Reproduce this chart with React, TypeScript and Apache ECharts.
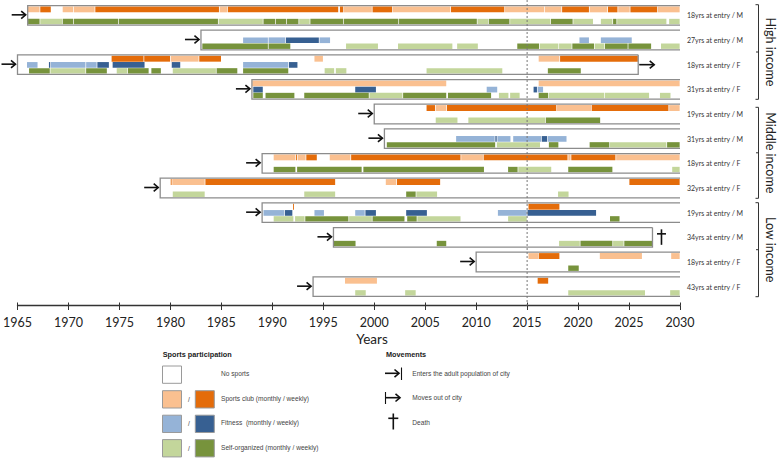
import React, { useEffect, useRef } from "react";
import * as echarts from "echarts";

// ---------------- data ----------------
const personLabels = [
  "18yrs at entry / M",
  "27yrs at entry / M",
  "18yrs at entry / F",
  "31yrs at entry / F",
  "19yrs at entry / M",
  "31yrs at entry / M",
  "18yrs at entry / F",
  "32yrs at entry / F",
  "19yrs at entry / M",
  "34yrs at entry / M",
  "18yrs at entry / F",
  "43yrs at entry / F",
];
const entryYears = [1966, 1983, 1965, 1988, 2000, 2001, 1989, 1979, 1989, 1996, 2010, 1994];
const endYears = [2030, 2030, 2025.9, 2030, 2030, 2030, 2030, 2030, 2030, 2027.3, 2030, 2030];
// 0 = still in city, 1 = moves out of city, 2 = death
const endTypes = [0, 0, 1, 0, 0, 0, 0, 0, 0, 2, 0, 0];

const incomeGroups = ["High income", "Middle income", "Low income"];
const yearMin = 1965;
const yearMax = 2030;
const yearStep = 5;
const referenceYear = 2015;

// [person, start, end, intensity (0 = monthly, 1 = weekly)]
const clubSegments = [
  [0, 1966.0, 1967.2, 0], [0, 1967.2, 1968.3, 1], [0, 1969.4, 1970.5, 0], [0, 1970.5, 1972.6, 0],
  [0, 1972.6, 1984.8, 1], [0, 1984.8, 1985.6, 0], [0, 1985.6, 1996.5, 1], [0, 1996.6, 1997.0, 1],
  [0, 1997.0, 1999.8, 0], [0, 1999.8, 2001.8, 1], [0, 2001.8, 2007.5, 0], [0, 2007.5, 2012.8, 1],
  [0, 2012.8, 2016.7, 0], [0, 2016.7, 2018.4, 0], [0, 2018.4, 2021.1, 1], [0, 2021.1, 2022.9, 0],
  [0, 2022.9, 2023.9, 1], [0, 2023.9, 2025.1, 0], [0, 2025.1, 2027.8, 1], [0, 2027.8, 2030, 0],
  [2, 1974.2, 1977.4, 1], [2, 1977.4, 1980.0, 1], [2, 1980.0, 1982.8, 0], [2, 1982.8, 1985.0, 1],
  [2, 1994.1, 1995.0, 0], [2, 2016.1, 2018.2, 0], [2, 2018.2, 2025.9, 1],
  [3, 1988.0, 2007.1, 0], [3, 2016.1, 2030, 0],
  [4, 2005.1, 2006.0, 1], [4, 2006.0, 2007.1, 0], [4, 2007.1, 2017.9, 1], [4, 2017.9, 2021.3, 0],
  [4, 2021.3, 2028.9, 1], [4, 2028.9, 2030, 0],
  [6, 1990.1, 1992.3, 0], [6, 1992.3, 1992.45, 1], [6, 1992.45, 1993.3, 0], [6, 1993.3, 1994.4, 1],
  [6, 1995.6, 1997.7, 0], [6, 1997.7, 2008.5, 1], [6, 2008.5, 2010.7, 0], [6, 2010.7, 2019.0, 1],
  [6, 2019.0, 2019.3, 0], [6, 2019.3, 2023.7, 1], [6, 2023.7, 2030, 0],
  [7, 1980.0, 1980.15, 1], [7, 1980.15, 1983.4, 0], [7, 1983.4, 1996.2, 1], [7, 2001.1, 2002.2, 0],
  [7, 2002.2, 2006.5, 1], [7, 2025.0, 2030, 1],
  [8, 1992.0, 1992.12, 1], [8, 2015.1, 2018.2, 1],
  [10, 2015.1, 2016.1, 0], [10, 2016.1, 2018.2, 1], [10, 2022.1, 2026.3, 0], [10, 2029.1, 2030, 0],
  [11, 1997.1, 2000.3, 0], [11, 2016.0, 2017.1, 1],
];

const fitnessSegments = [
  [1, 1987.1, 1989.6, 0], [1, 1989.6, 1991.3, 0], [1, 1991.3, 1994.6, 1], [1, 1994.6, 1995.7, 0],
  [1, 2020.1, 2021.1, 0], [1, 2022.2, 2025.3, 0],
  [2, 1965.9, 1967.0, 0], [2, 1968.05, 1968.25, 1], [2, 1968.25, 1971.7, 0], [2, 1971.7, 1972.8, 0],
  [2, 1972.8, 1974.0, 1], [2, 1974.3, 1977.5, 1], [2, 1980.1, 1981.0, 1], [2, 1987.1, 1991.6, 0],
  [2, 1991.6, 1992.5, 1],
  [3, 1988.1, 1989.1, 1], [3, 1998.1, 2000.2, 1], [3, 2011.0, 2012.1, 0], [3, 2015.6, 2016.0, 1],
  [3, 2016.0, 2016.6, 0],
  [5, 2008.0, 2011.85, 0], [5, 2011.85, 2012.05, 1], [5, 2012.05, 2013.4, 0], [5, 2013.6, 2016.4, 0],
  [5, 2016.4, 2017.0, 1], [5, 2017.0, 2018.9, 0],
  [8, 1989.1, 1991.2, 0], [8, 1991.2, 1992.0, 1], [8, 1994.1, 1995.1, 0], [8, 1998.1, 1999.1, 0],
  [8, 1999.1, 2000.2, 1], [8, 2003.1, 2005.2, 1], [8, 2012.1, 2015.0, 0], [8, 2015.0, 2021.8, 1],
];

const selfSegments = [
  [0, 1966.0, 1967.2, 1], [0, 1967.2, 1969.4, 0], [0, 1969.4, 1970.5, 1], [0, 1970.5, 1974.9, 1],
  [0, 1974.9, 1984.7, 1], [0, 1984.7, 1989.1, 0], [0, 1989.1, 1990.3, 1], [0, 1990.3, 1991.4, 1],
  [0, 1991.4, 1992.6, 1], [0, 1992.6, 1993.7, 0], [0, 1993.7, 1997.0, 1], [0, 1997.0, 2002.4, 1],
  [0, 2002.4, 2010.1, 1], [0, 2010.1, 2011.2, 0], [0, 2011.2, 2013.3, 1], [0, 2013.3, 2017.3, 0],
  [0, 2017.3, 2019.5, 1], [0, 2019.5, 2021.5, 0], [0, 2022.2, 2023.4, 0], [0, 2023.4, 2023.8, 1],
  [0, 2023.8, 2028.7, 0], [0, 2028.9, 2030, 0],
  [1, 1983.1, 1989.6, 1], [1, 1989.6, 1991.8, 1], [1, 1997.2, 2000.4, 0], [1, 2002.3, 2007.7, 0],
  [1, 2008.1, 2010.2, 0], [1, 2014.0, 2016.2, 1], [1, 2016.2, 2018.1, 0], [1, 2018.1, 2019.4, 0],
  [1, 2019.4, 2021.6, 1], [1, 2021.6, 2022.6, 0], [1, 2022.6, 2024.9, 1], [1, 2024.9, 2027.2, 1],
  [1, 2028.1, 2030, 0],
  [2, 1966.1, 1968.2, 1], [2, 1968.2, 1971.7, 0], [2, 1971.7, 1973.8, 1], [2, 1974.7, 1975.8, 0],
  [2, 1975.8, 1977.9, 1], [2, 1978.1, 1979.1, 1], [2, 1980.2, 1984.5, 0], [2, 1984.5, 1986.6, 1],
  [2, 1987.1, 1991.6, 1], [2, 1995.1, 1996.1, 0], [2, 1996.2, 1997.3, 0], [2, 2005.1, 2012.6, 0],
  [2, 2017.0, 2020.3, 1],
  [3, 1988.1, 1989.1, 1], [3, 1989.3, 1992.2, 1], [3, 1993.1, 1999.5, 1], [3, 1999.5, 2002.8, 0],
  [3, 2002.8, 2007.1, 1], [3, 2007.2, 2011.5, 1], [3, 2012.2, 2013.2, 0], [3, 2013.3, 2014.3, 0],
  [3, 2016.1, 2017.1, 1], [3, 2017.1, 2022.6, 0], [3, 2022.6, 2027.0, 0], [3, 2028.0, 2029.1, 0],
  [4, 2006.0, 2008.2, 0], [4, 2009.2, 2016.8, 0], [4, 2016.8, 2022.2, 1],
  [5, 2001.2, 2011.9, 1], [5, 2012.0, 2016.3, 0], [5, 2017.1, 2018.1, 1], [5, 2021.1, 2023.1, 1],
  [5, 2023.1, 2028.7, 0], [5, 2028.7, 2030, 1],
  [6, 1990.1, 1992.3, 1], [6, 1992.4, 1998.8, 1], [6, 1998.9, 2010.8, 1], [6, 2013.1, 2014.1, 1],
  [6, 2014.1, 2017.4, 0], [6, 2019.0, 2023.4, 1], [6, 2029.2, 2030, 0],
  [7, 1980.2, 1983.4, 0], [7, 1993.1, 1996.2, 0], [7, 2003.1, 2004.1, 1], [7, 2004.1, 2006.2, 0],
  [7, 2018.0, 2019.1, 0],
  [8, 1990.1, 1992.1, 0], [8, 1992.2, 1993.2, 0], [8, 1993.2, 1997.5, 1], [8, 1997.5, 1999.8, 0],
  [8, 1999.8, 2003.0, 1], [8, 2003.2, 2004.2, 1], [8, 2004.2, 2008.5, 0], [8, 2013.1, 2015.0, 0],
  [8, 2023.1, 2024.1, 1],
  [9, 1996.0, 1998.2, 1], [9, 2006.1, 2007.1, 1], [9, 2018.1, 2020.2, 0], [9, 2020.2, 2023.4, 1],
  [9, 2023.4, 2024.5, 0], [9, 2024.5, 2027.3, 1],
  [10, 2019.0, 2020.1, 1],
  [11, 1998.1, 1999.2, 0], [11, 2003.0, 2004.1, 0], [11, 2019.0, 2026.6, 0], [11, 2029.0, 2030, 0],
];

// ---------------- styles ----------------
const palette = [
  ["#FAC090", "#E46C0A"], // sports club
  ["#95B3D7", "#376092"], // fitness
  ["#C3D69B", "#77933C"], // self-organized
];
const subRowOffsets = [
  [-8.9, -3.0],
  [-2.6, 3.1],
  [3.5, 8.9],
];
const BOX_HALF = 9.8;
const FONT = "Lato, 'Liberation Sans', sans-serif";
const LEGEND_FONT = "'Liberation Sans', Arial, sans-serif";

function buildOption() {
  const segData: number[][] = [];
  clubSegments.forEach((s) => segData.push([s[0], 0, s[1], s[2], s[3]]));
  fitnessSegments.forEach((s) => segData.push([s[0], 1, s[1], s[2], s[3]]));
  selfSegments.forEach((s) => segData.push([s[0], 2, s[1], s[2], s[3]]));

  const boxData = personLabels.map((_, i) => [i, entryYears[i], endYears[i], endTypes[i]]);

  const black = "#111";

  const renderSegment = (params: any, api: any) => {
    const row = api.value(0);
    const sub = api.value(1);
    const lvl = api.value(4);
    const p0 = api.coord([api.value(2), row]);
    const p1 = api.coord([api.value(3), row]);
    const off = subRowOffsets[sub];
    const w = Math.max(p1[0] - p0[0] - 0.7, 0.9);
    return {
      type: "rect",
      shape: { x: p0[0] + 0.35, y: p0[1] + off[0], width: w, height: off[1] - off[0] },
      style: { fill: palette[sub][lvl] },
    };
  };

  const renderBox = (params: any, api: any) => {
    const row = api.value(0);
    const p0 = api.coord([api.value(1), row]);
    const p1 = api.coord([api.value(2), row]);
    const endType = api.value(3);
    const cy = p0[1];
    const top = cy - BOX_HALF;
    const bot = cy + BOX_HALF;
    const x0 = p0[0];
    const x1 = p1[0];
    const children: any[] = [];
    const pts =
      endType === 0
        ? [[x1, top], [x0, top], [x0, bot], [x1, bot]]
        : [[x1, top], [x0, top], [x0, bot], [x1, bot], [x1, top]];
    children.push({
      type: "polyline",
      shape: { points: pts },
      style: { stroke: "#8c8c8c", lineWidth: 1.3, fill: "none" },
    });
    // entry arrow
    const ay = cy - 0.5;
    children.push({
      type: "line",
      shape: { x1: x0 - 16, y1: ay, x2: x0 - 2, y2: ay },
      style: { stroke: black, lineWidth: 1.6 },
    });
    children.push({
      type: "polyline",
      shape: { points: [[x0 - 6.5, ay - 3.8], [x0 - 2, ay], [x0 - 6.5, ay + 3.8]] },
      style: { stroke: black, lineWidth: 1.6, fill: "none" },
    });
    if (endType === 1) {
      children.push({
        type: "line",
        shape: { x1: x1 + 1, y1: cy, x2: x1 + 16, y2: cy },
        style: { stroke: black, lineWidth: 1.6 },
      });
      children.push({
        type: "polyline",
        shape: { points: [[x1 + 11.5, cy - 3.8], [x1 + 16, cy], [x1 + 11.5, cy + 3.8]] },
        style: { stroke: black, lineWidth: 1.6, fill: "none" },
      });
    } else if (endType === 2) {
      const cx = x1 + 9;
      children.push({
        type: "line",
        shape: { x1: cx, y1: cy - 8, x2: cx, y2: cy + 7.5 },
        style: { stroke: black, lineWidth: 1.6 },
      });
      children.push({
        type: "line",
        shape: { x1: cx - 4.5, y1: cy - 3.5, x2: cx + 4.5, y2: cy - 3.5 },
        style: { stroke: black, lineWidth: 1.6 },
      });
    }
    return { type: "group", children };
  };

  const renderRef = (params: any, api: any) => {
    const pTop = api.coord([api.value(0), 0]);
    const pBot = api.coord([api.value(0), personLabels.length - 1]);
    return {
      type: "line",
      shape: { x1: pTop[0], y1: 0, x2: pTop[0], y2: pBot[1] + 19 },
      style: { stroke: "#777", lineWidth: 1, lineDash: [2, 2] },
    };
  };

  // ----- graphic: brackets, group labels, Years, legend -----
  const bracketSpec = [
    { top: 4.7, bottom: 99.3 },
    { top: 107.3, bottom: 198.3 },
    { top: 202.7, bottom: 296.7 },
  ];
  const graphics: any[] = [];
  bracketSpec.forEach((b, i) => {
    const bx = 758.5;
    const mid = (b.top + b.bottom) / 2;
    graphics.push({
      type: "polyline",
      shape: { points: [[755.5, b.top], [bx, b.top], [bx, b.bottom], [755.5, b.bottom]] },
      style: { stroke: "#333", lineWidth: 1, fill: "none" },
    });
    graphics.push({
      type: "line",
      shape: { x1: bx, y1: mid, x2: bx - 2.5, y2: mid },
      style: { stroke: "#333", lineWidth: 1 },
    });
    graphics.push({
      type: "text",
      x: 770,
      y: mid,
      rotation: -Math.PI / 2,
      style: {
        text: incomeGroups[i],
        fontSize: 12.5,
        fontFamily: FONT,
        fill: "#222",
        align: "center",
        verticalAlign: "middle",
      },
    });
  });

  graphics.push({
    type: "text",
    x: 372,
    y: 338.5,
    style: {
      text: "Years",
      fontSize: 13.5,
      fontFamily: FONT,
      fill: "#222",
      align: "center",
      verticalAlign: "middle",
    },
  });

  // legend: sports participation
  graphics.push({
    type: "text",
    x: 162.7,
    y: 354,
    style: {
      text: "Sports participation",
      fontSize: 7.3,
      fontWeight: "bold",
      fontFamily: LEGEND_FONT,
      fill: "#222",
      verticalAlign: "middle",
    },
  });
  const legendRows = [
    { label: "No sports", y: 366, colors: null as null | string[] },
    { label: "Sports club (monthly / weekly)", y: 390.7, colors: palette[0] },
    { label: "Fitness  (monthly / weekly)", y: 415.2, colors: palette[1] },
    { label: "Self-organized (monthly / weekly)", y: 439.6, colors: palette[2] },
  ];
  legendRows.forEach((r) => {
    graphics.push({
      type: "rect",
      shape: { x: 162.5, y: r.y, width: 19, height: 17.3 },
      style: { fill: r.colors ? r.colors[0] : "#fff", stroke: "#9a9a9a", lineWidth: 1 },
    });
    if (r.colors) {
      graphics.push({
        type: "text",
        x: 189,
        y: r.y + 8.6,
        style: {
          text: "/",
          fontSize: 6.5,
          fontFamily: LEGEND_FONT,
          fill: "#444",
          align: "center",
          verticalAlign: "middle",
        },
      });
      graphics.push({
        type: "rect",
        shape: { x: 195.3, y: r.y, width: 19, height: 17.3 },
        style: { fill: r.colors[1], stroke: "#9a9a9a", lineWidth: 1 },
      });
    }
    graphics.push({
      type: "text",
      x: 221,
      y: r.y + 7.4,
      style: {
        text: r.label,
        fontSize: 6.6,
        fontFamily: LEGEND_FONT,
        fill: "#444",
        verticalAlign: "middle",
      },
    });
  });

  // legend: movements
  graphics.push({
    type: "text",
    x: 386,
    y: 354,
    style: {
      text: "Movements",
      fontSize: 7.3,
      fontWeight: "bold",
      fontFamily: LEGEND_FONT,
      fill: "#222",
      verticalAlign: "middle",
    },
  });
  const lw = 1.6;
  // enters
  graphics.push({ type: "line", shape: { x1: 385, y1: 373.3, x2: 399, y2: 373.3 }, style: { stroke: black, lineWidth: lw } });
  graphics.push({ type: "polyline", shape: { points: [[394.5, 369.5], [399, 373.3], [394.5, 377.1]] }, style: { stroke: black, lineWidth: lw, fill: "none" } });
  graphics.push({ type: "line", shape: { x1: 401.5, y1: 367.5, x2: 401.5, y2: 380 }, style: { stroke: black, lineWidth: 1.1 } });
  // moves out
  graphics.push({ type: "line", shape: { x1: 385.5, y1: 392, x2: 385.5, y2: 404 }, style: { stroke: black, lineWidth: 1.1 } });
  graphics.push({ type: "line", shape: { x1: 385.5, y1: 397.7, x2: 400, y2: 397.7 }, style: { stroke: black, lineWidth: lw } });
  graphics.push({ type: "polyline", shape: { points: [[395.5, 393.9], [400, 397.7], [395.5, 401.5]] }, style: { stroke: black, lineWidth: lw, fill: "none" } });
  // death
  graphics.push({ type: "line", shape: { x1: 393.3, y1: 413.5, x2: 393.3, y2: 429.5 }, style: { stroke: black, lineWidth: lw } });
  graphics.push({ type: "line", shape: { x1: 388.3, y1: 418.3, x2: 398.3, y2: 418.3 }, style: { stroke: black, lineWidth: lw } });

  const moveLabels = [
    { text: "Enters the adult population of city", y: 373.3 },
    { text: "Moves out of city", y: 397.7 },
    { text: "Death", y: 422.7 },
  ];
  moveLabels.forEach((m) => {
    graphics.push({
      type: "text",
      x: 412.3,
      y: m.y,
      style: { text: m.text, fontSize: 6.6, fontFamily: LEGEND_FONT, fill: "#444", verticalAlign: "middle" },
    });
  });

  const baseX = {
    type: "value",
    min: yearMin,
    max: yearMax,
    interval: yearStep,
    position: "bottom",
    offset: 6.5,
    splitLine: { show: false },
  };

  return {
    animation: false,
    backgroundColor: "#ffffff",
    grid: { left: 17, right: 98, top: 3, bottom: 160 },
    xAxis: [
      {
        ...baseX,
        axisLine: { show: true, lineStyle: { color: "#333", width: 1.3 } },
        axisTick: { show: true, inside: false, length: 4.5, lineStyle: { color: "#333", width: 1 } },
        axisLabel: {
          show: true,
          fontSize: 12.5,
          fontFamily: FONT,
          color: "#222",
          margin: 10,
          formatter: (v: number) => String(v),
        },
      },
      {
        ...baseX,
        axisLine: { show: false },
        axisTick: { show: true, inside: true, length: 3, lineStyle: { color: "#333", width: 1 } },
        axisLabel: { show: false },
      },
    ],
    yAxis: {
      type: "category",
      data: personLabels,
      inverse: true,
      position: "right",
      axisLine: { show: false },
      axisTick: { show: false },
      splitLine: { show: false },
      axisLabel: { fontSize: 7, fontFamily: FONT, color: "#333", margin: 7 },
    },
    graphic: graphics,
    series: [
      {
        type: "custom",
        name: "segments",
        xAxisIndex: 0,
        renderItem: renderSegment,
        encode: { x: [2, 3], y: 0 },
        data: segData,
        z: 2,
      },
      {
        type: "custom",
        name: "boxes",
        xAxisIndex: 0,
        renderItem: renderBox,
        encode: { x: [1, 2], y: 0 },
        data: boxData,
        z: 3,
      },
      {
        type: "custom",
        name: "reference",
        xAxisIndex: 0,
        renderItem: renderRef,
        encode: { x: 0, y: 1 },
        data: [[referenceYear, 0]],
        z: 4,
      },
    ],
  };
}

export default function App() {
  const ref = useRef<HTMLDivElement>(null);
  useEffect(() => {
    if (!ref.current) return;
    const chart = echarts.init(ref.current, undefined, { renderer: "svg" });
    chart.setOption(buildOption() as any);
    return () => chart.dispose();
  }, []);
  return (
    <div
      ref={ref}
      style={{ position: "fixed", left: 0, top: 0, width: 778, height: 459, background: "#fff" }}
    />
  );
}
